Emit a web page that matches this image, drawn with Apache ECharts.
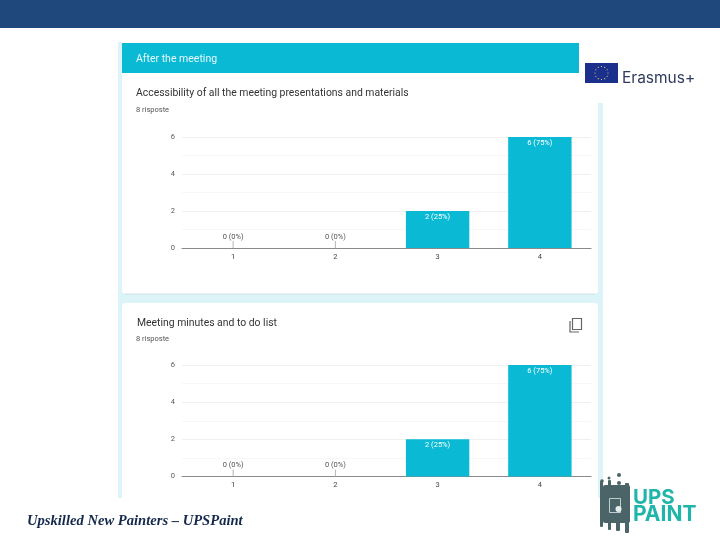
<!DOCTYPE html>
<html>
<head>
<meta charset="utf-8">
<title>After the meeting</title>
<script src="https://cdn.jsdelivr.net/npm/echarts@6/dist/echarts.min.js"></script>
<style>
    html, body { margin: 0; padding: 0; background: #fff; }
    #chart { width: 720px; height: 540px; }
</style>
</head>
<body>
<div id="chart"></div>
<script>
const categories = ["1", "2", "3", "4"];
const accessValues = [0, 0, 2, 6];
const accessPercents = [0, 0, 25, 75];
const minutesValues = [0, 0, 2, 6];
const minutesPercents = [0, 0, 25, 75];

const sectionTitle = "After the meeting";
const accessTitle = "Accessibility of all the meeting presentations and materials";
const minutesTitle = "Meeting minutes and to do list";
const responseNote = "8 risposte";
const footerText = "Upskilled New Painters – UPSPaint";

const barColor = "#0abad4";
const font = "Roboto, sans-serif";

const chart = echarts.init(document.getElementById("chart"));

function yAxisFor(gridIndex) {
    return {
        type: "value",
        gridIndex,
        min: 0,
        max: 6,
        interval: 2,
        axisLine: { show: false },
        axisTick: { show: false },
        axisLabel: { color: "#5a5a5a", fontSize: 7.5, fontFamily: font, margin: 7 },
        splitLine: { lineStyle: { color: "#f0f0f0", width: 1 } },
        minorTick: { show: false, splitNumber: 2 },
        minorSplitLine: { show: true, lineStyle: { color: "#f7f7f7", width: 1 } },
    };
}

function xAxisFor(gridIndex) {
    return {
        type: "category",
        gridIndex,
        data: categories,
        axisLine: { lineStyle: { color: "#8a8a8a", width: 1 } },
        axisTick: { show: false },
        axisLabel: { color: "#444", fontSize: 7.5, fontFamily: font, margin: 5 },
    };
}

function barSeries(axisIndex, values, percents) {
    return {
        type: "bar",
        xAxisIndex: axisIndex,
        yAxisIndex: axisIndex,
        barWidth: "62%",
        itemStyle: { color: barColor },
        data: values.map((v, i) => ({
            value: v,
            label: {
                show: true,
                formatter: `${v} (${percents[i]}%)`,
                fontSize: 7.5,
                fontFamily: font,
                position: v === 0 ? "top" : "insideTop",
                distance: v === 0 ? 7 : 2,
                color: v === 0 ? "#555" : "#fff",
            },
        })),
    };
}

// little stub under the "0 (0%)" labels
function stubSeries(axisIndex, values) {
    return {
        type: "custom",
        xAxisIndex: axisIndex,
        yAxisIndex: axisIndex,
        silent: true,
        data: values.map((v, i) => [i, v]),
        renderItem(params, api) {
            if (api.value(1) !== 0) {
                return null;
            }
            const p = api.coord([api.value(0), 0]);
            return {
                type: "line",
                shape: { x1: p[0], y1: p[1], x2: p[0], y2: p[1] - 7 },
                style: { stroke: "#b5b5b5", lineWidth: 1 },
            };
        },
    };
}

function label(x, y, text, fontSize, color, extra) {
    return {
        type: "text",
        z: -5,
        x,
        y,
        style: Object.assign({
            text,
            fontSize,
            fill: color,
            fontFamily: font,
            textVerticalAlign: "middle",
        }, extra || {}),
    };
}

function box(x, y, width, height, fill, r) {
    return { type: "rect", z: -10, shape: { x, y, width, height, r: r || 0 }, style: { fill } };
}

function dot(cx, cy, r, fill) {
    return { type: "circle", z: -5, shape: { cx, cy, r }, style: { fill } };
}

// EU flag star ring
const stars = [];
for (let i = 0; i < 12; i++) {
    const a = (i / 12) * Math.PI * 2;
    stars.push(dot(601.5 + Math.cos(a) * 6.5, 73 + Math.sin(a) * 6.5, 0.6, "#e8df7a"));
}

// UPS Paint brush-like mark
const logoDark = "#4a6468";
const upsMark = [
    box(603, 485, 27, 38, logoDark, 2),
    box(600, 481, 3, 46, logoDark, 1),
    box(608, 480, 3, 50, logoDark, 1),
    box(616, 488, 4, 43, logoDark, 1),
    box(625, 483, 4, 50, logoDark, 1),
    dot(619, 475, 2, logoDark),
    dot(619, 483, 2, logoDark),
    dot(602, 481, 1.8, logoDark),
    dot(609, 478, 1.5, logoDark),
    { type: "rect", z: -5, shape: { x: 609.5, y: 498.5, width: 11, height: 14 }, style: { fill: "none", stroke: "#dfe8e8", lineWidth: 0.8 } },
    dot(618.5, 509, 3, "#e6eeee"),
];

chart.setOption({
    animation: false,
    backgroundColor: "#fff",
    grid: [
        { left: 182, right: 129, top: 137, height: 111 },
        { left: 182, right: 129, top: 365, height: 111.5 },
    ],
    xAxis: [xAxisFor(0), xAxisFor(1)],
    yAxis: [yAxisFor(0), yAxisFor(1)],
    series: [
        barSeries(0, accessValues, accessPercents),
        stubSeries(0, accessValues),
        barSeries(1, minutesValues, minutesPercents),
        stubSeries(1, minutesValues),
    ],
    graphic: [
        box(0, 0, 720, 28, "#1f497d"),
        // form background, cards sit on top of it
        box(118, 42, 4, 456, "#dcf3f7"),
        box(598, 103, 5, 395, "#dcf3f7"),
        box(122, 285, 478, 25, "#dcf3f7"),
        box(122, 80, 476, 214, "#fff", 4),
        box(122, 303, 476, 195, "#fff", 4),
        { type: "line", z: -9, shape: { x1: 125, y1: 294, x2: 595, y2: 294 }, style: { stroke: "#cfdfe3", lineWidth: 1 } },
        box(122, 43, 457, 30, barColor),
        label(136, 59, sectionTitle, 10.5, "#e6f8fb"),
        label(136, 93, accessTitle, 10.4, "#333"),
        label(136, 110, responseNote, 7.5, "#555"),
        label(137, 323, minutesTitle, 10.4, "#333"),
        label(136, 339, responseNote, 7.5, "#555"),
        // copy icon
        { type: "rect", z: -5, shape: { x: 572.5, y: 318.5, width: 9, height: 11 }, style: { fill: "none", stroke: "#666", lineWidth: 1.2 } },
        { type: "polyline", z: -5, shape: { points: [[570, 321], [570, 332], [579, 332]] }, style: { fill: "none", stroke: "#666", lineWidth: 1.2 } },
        // Erasmus+ logo
        box(585, 63, 33, 20, "#1b2f8c"),
        ...stars,
        label(622, 78, "Erasmus+", 15.5, "#2f3b5c", { fontFamily: "Inter, sans-serif" }),
        // UPS Paint logo
        ...upsMark,
        label(633, 498, "UPS", 20.5, "#1fb5a8", { fontWeight: "bold", fontFamily: "Inter, sans-serif" }),
        label(633, 515, "PAINT", 21, "#1fb5a8", { fontWeight: "bold", fontFamily: "Inter, sans-serif" }),
        label(27, 521, footerText, 14.6, "#14284b", {
            fontFamily: "'Liberation Serif', serif",
            fontStyle: "italic",
            fontWeight: "bold",
        }),
    ],
});

window.addEventListener("resize", () => chart.resize());
</script>
</body>
</html>
